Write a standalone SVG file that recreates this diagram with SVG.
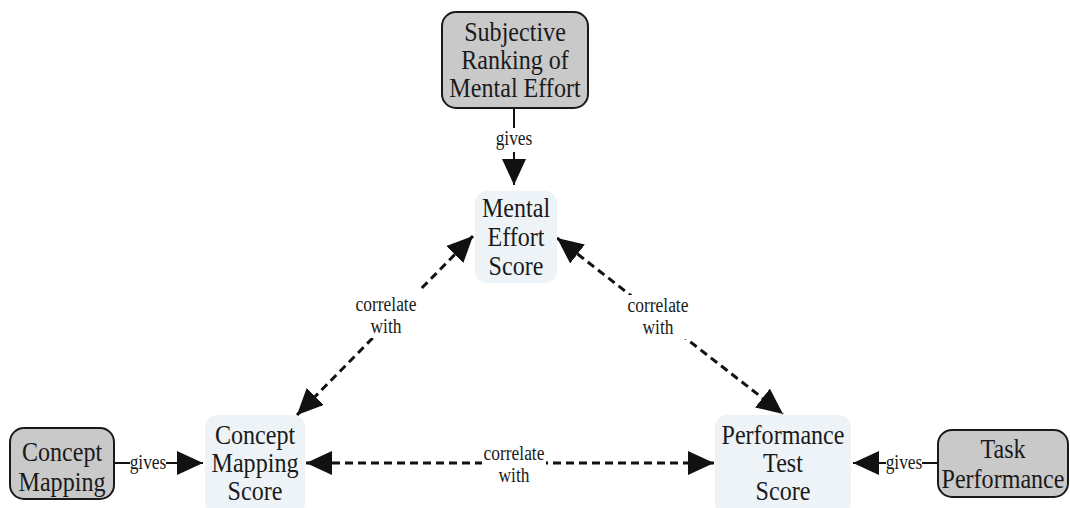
<svg xmlns="http://www.w3.org/2000/svg" width="1070" height="508" viewBox="0 0 1070 508">
  <style>
    .src { fill: #c9c9c9; stroke: #1a1a1a; stroke-width: 2; }
    .score { fill: #edf3f7; stroke: none; }
    .nt { font-family: "Liberation Serif", "Times New Roman", serif; font-size: 28px; fill: #1a1a1a; text-anchor: middle; }
    .lt { font-family: "Liberation Serif", "Times New Roman", serif; font-size: 20px; fill: #1a1a1a; text-anchor: middle; }
    .solid { stroke: #111; stroke-width: 2; fill: none; }
    .dash { stroke: #111; stroke-width: 3; fill: none; stroke-dasharray: 8 5; }
    .bg { fill: #ffffff; }
  </style>
  <defs>
    <marker id="head" markerUnits="userSpaceOnUse" markerWidth="28" markerHeight="26" refX="26" refY="12" orient="auto-start-reverse">
      <path d="M0,0 L26,12 L0,24 z" fill="#111"/>
    </marker>
  </defs>

  <rect width="1070" height="508" fill="#ffffff"/>

  <!-- connectors -->
  <g id="connectors">
    <line class="solid" x1="514" y1="108" x2="514" y2="185" marker-end="url(#head)"/>
    <line class="solid" x1="114" y1="463" x2="203" y2="463" marker-end="url(#head)"/>
    <line class="solid" x1="938" y1="463" x2="853" y2="463" marker-end="url(#head)"/>
    <line class="dash" x1="473" y1="236" x2="297" y2="415" marker-start="url(#head)" marker-end="url(#head)"/>
    <line class="dash" x1="557" y1="238" x2="783" y2="414" marker-start="url(#head)" marker-end="url(#head)"/>
    <line class="dash" x1="306" y1="463" x2="714" y2="463" marker-start="url(#head)" marker-end="url(#head)"/>

    <!-- label backdrops break the lines around the words -->
    <rect class="bg" x="496" y="128" width="36" height="24"/>
    <rect class="bg" x="130" y="453" width="36" height="20"/>
    <rect class="bg" x="886" y="453" width="36" height="20"/>
    <rect class="bg" x="352" y="290" width="68" height="48"/>
    <rect class="bg" x="624" y="295" width="68" height="44"/>
    <rect class="bg" x="482" y="444" width="64" height="44"/>

    <text class="lt" transform="translate(514 145) scale(.87 1)">gives</text>
    <text class="lt" transform="translate(148 469) scale(.87 1)">gives</text>
    <text class="lt" transform="translate(904 469) scale(.87 1)">gives</text>
    <text class="lt" transform="translate(386 311) scale(.87 1)">correlate</text>
    <text class="lt" transform="translate(386 333) scale(.87 1)">with</text>
    <text class="lt" transform="translate(658 312) scale(.87 1)">correlate</text>
    <text class="lt" transform="translate(658 334) scale(.87 1)">with</text>
    <text class="lt" transform="translate(514 460) scale(.87 1)">correlate</text>
    <text class="lt" transform="translate(514 482) scale(.87 1)">with</text>
  </g>

  <!-- source nodes -->
  <g id="subjective-ranking">
    <rect class="src" x="442" y="12" width="146" height="96" rx="14"/>
    <text class="nt" transform="translate(515 41) scale(.86 1)">Subjective</text>
    <text class="nt" transform="translate(515 69) scale(.86 1)">Ranking of</text>
    <text class="nt" transform="translate(515 97) scale(.86 1)">Mental Effort</text>
  </g>
  <g id="concept-mapping">
    <rect class="src" x="10" y="428" width="104" height="71" rx="14"/>
    <text class="nt" transform="translate(62 461) scale(.86 1)">Concept</text>
    <text class="nt" transform="translate(62 491) scale(.86 1)">Mapping</text>
  </g>
  <g id="task-performance">
    <rect class="src" x="938" y="430" width="130" height="67" rx="14"/>
    <text class="nt" transform="translate(1003 458) scale(.86 1)">Task</text>
    <text class="nt" transform="translate(1003 488) scale(.86 1)">Performance</text>
  </g>

  <!-- score nodes -->
  <g id="mental-effort-score">
    <rect class="score" x="475" y="191" width="82" height="92" rx="12"/>
    <text class="nt" transform="translate(516 217) scale(.86 1)">Mental</text>
    <text class="nt" transform="translate(516 246) scale(.86 1)">Effort</text>
    <text class="nt" transform="translate(516 275) scale(.86 1)">Score</text>
  </g>
  <g id="concept-mapping-score">
    <rect class="score" x="205" y="415" width="100" height="100" rx="12"/>
    <text class="nt" transform="translate(255 444) scale(.86 1)">Concept</text>
    <text class="nt" transform="translate(255 472) scale(.86 1)">Mapping</text>
    <text class="nt" transform="translate(255 500) scale(.86 1)">Score</text>
  </g>
  <g id="performance-test-score">
    <rect class="score" x="715" y="415" width="136" height="100" rx="12"/>
    <text class="nt" transform="translate(783 444) scale(.86 1)">Performance</text>
    <text class="nt" transform="translate(783 472) scale(.86 1)">Test</text>
    <text class="nt" transform="translate(783 500) scale(.86 1)">Score</text>
  </g>
</svg>
